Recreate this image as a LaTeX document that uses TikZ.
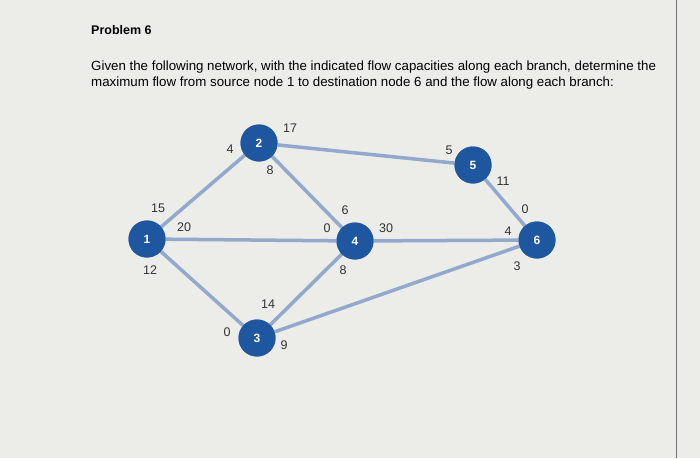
\documentclass[tikz,border=0pt]{standalone}
\usepackage{fontspec}
\setmainfont{Liberation Sans}
\begin{document}
\begin{tikzpicture}[x=1pt,y=-1pt,
  nd/.style={circle,fill=nodeblue,minimum size=37pt,inner sep=0pt,text=white,font=\fontsize{12}{14}\selectfont\bfseries},
  ed/.style={draw=edgeblue,line width=3.5pt},
  lb/.style={font=\fontsize{12.5}{14}\selectfont,text=black!80,inner sep=0pt}]
\definecolor{nodeblue}{HTML}{1E56A0}
\definecolor{edgeblue}{HTML}{92A8CC}
\fill[fill={rgb,255:red,236;green,236;blue,233}] (0,0) rectangle (700,458);
\useasboundingbox (0,0) rectangle (700,458);
\draw[black!55,line width=1pt] (676,0) -- (676,458);
\node[anchor=west,font=\fontsize{12.5}{15}\selectfont\bfseries,inner sep=0pt] (t) at (91,30) {Problem 6};
\node[anchor=north west,align=left,inner sep=0pt,font=\fontsize{13.3}{16}\selectfont] (p) at (91,61) {Given the following network, with the indicated flow capacities along each branch, determine the\\maximum flow from source node 1 to destination node 6 and the flow along each branch:};
\node[nd] (n1) at (147,239) {1};
\node[nd] (n2) at (259,143) {2};
\node[nd] (n3) at (257,338) {3};
\node[nd] (n4) at (355,241) {4};
\node[nd] (n5) at (473,165) {5};
\node[nd] (n6) at (537,240) {6};
\path[ed] (n1)--(n2) (n1)--(n4) (n1)--(n3) (n2)--(n5) (n2)--(n4) (n4)--(n6) (n3)--(n4) (n3)--(n6) (n5)--(n6);
\node[nd] at (n1) {1};
\node[nd] at (n2) {2};
\node[nd] at (n3) {3};
\node[nd] at (n4) {4};
\node[nd] at (n5) {5};
\node[nd] at (n6) {6};
\foreach \x/\y/\t [count=\i] in {158/208/15,184/227/20,150/270/12,230/149/4,290/128/17,270/170/8,449/150/5,503/181/11,525/209/0,508/231/4,517/266/3,345/210/6,327/228/0,386/228/30,343/270/8,268/304/14,227/332/0,284/345/9}
  \node[lb] (l\i) at (\x,\y) {\t};
\end{tikzpicture}
\end{document}
